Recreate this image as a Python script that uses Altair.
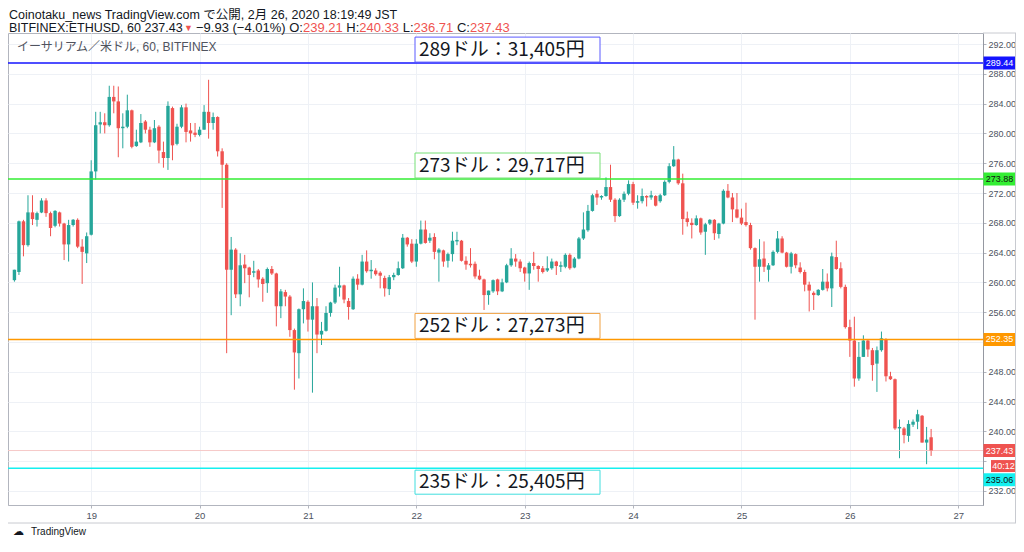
import altair as alt
import pandas as pd

# ---------------- data (hourly ETH/USD candles, Feb 18 07:00 -> Feb 26 18:00) ----------------
OPEN = [260.3, 261.4, 268.2, 265.0, 269.4, 268.4, 269.4, 271.0, 269.3, 267.6,
        269.4, 267.9, 265.1, 267.7, 268.4, 264.8, 263.9, 266.4, 274.9, 281.2,
        281.5, 281.1, 284.9, 284.3, 280.7, 280.9, 283.1, 278.3, 278.8, 281.6,
        280.5, 278.8, 280.9, 277.5, 276.7, 283.4, 278.6, 280.9, 283.5, 280.4,
        280.1, 279.8, 280.5, 282.9, 281.4, 282.2, 277.6, 275.8, 261.7, 264.4,
        258.4, 262.4, 262.0, 261.3, 261.6, 260.5, 259.9, 261.8, 261.2, 256.8,
        258.7, 258.1, 253.6, 250.5, 256.4, 257.4, 255.0, 256.8, 253.0, 253.5,
        255.9, 257.3, 259.3, 259.6, 257.5, 256.4, 260.5, 259.7, 262.8, 261.5,
        261.6, 261.3, 260.6, 259.1, 260.7, 261.0, 261.9, 266.0, 265.2, 262.8,
        265.2, 267.1, 265.6, 266.1, 264.0, 264.3, 262.9, 263.8, 265.5, 265.6,
        262.9, 262.5, 262.5, 260.9, 260.4, 258.3, 258.8, 260.4, 258.8, 260.0,
        262.3, 263.2, 262.8, 262.0, 261.2, 262.6, 262.2, 261.9, 261.6, 261.9,
        262.8, 262.1, 262.1, 263.7, 262.0, 263.2, 265.9, 267.0, 269.6, 271.9,
        271.4, 271.6, 272.8, 271.1, 268.9, 271.1, 271.9, 273.2, 270.7, 270.9,
        271.6, 271.4, 271.6, 270.9, 271.7, 273.5, 275.6, 276.5, 273.3, 268.6,
        268.0, 267.7, 268.6, 266.8, 267.9, 268.4, 266.5, 267.9, 272.3, 271.4,
        269.8, 268.7, 268.1, 267.7, 264.6, 262.1, 263.2, 261.7, 262.3, 264.1,
        265.9, 264.0, 262.1, 263.8, 262.0, 261.4, 259.7, 258.6, 258.3, 259.0,
        260.1, 259.2, 263.4, 261.9, 259.4, 254.0, 252.2, 247.1, 250.0, 252.2,
        250.9, 249.1, 250.9, 252.4, 247.4, 247.0, 240.4, 240.4, 239.4, 240.9,
        241.3, 242.1, 238.5, 239.21]
HIGH = [261.7, 268.3, 268.4, 271.7, 271.7, 269.5, 271.3, 271.3, 269.5, 269.7,
        269.5, 268.0, 268.4, 268.5, 268.6, 265.8, 266.7, 276.4, 282.9, 282.9,
        282.7, 286.4, 286.4, 286.3, 282.7, 285.2, 283.2, 280.5, 282.6, 281.8,
        280.9, 281.8, 281.1, 278.9, 284.3, 283.6, 281.3, 283.8, 284.0, 281.4,
        281.4, 280.9, 283.8, 287.2, 282.8, 282.3, 278.0, 276.0, 266.1, 264.6,
        263.9, 263.7, 262.1, 262.9, 261.8, 260.7, 262.0, 262.2, 261.3, 259.1,
        259.0, 258.3, 253.8, 256.5, 259.2, 257.6, 260.0, 257.9, 254.7, 256.8,
        257.4, 259.7, 262.1, 259.7, 257.9, 260.8, 261.1, 263.7, 264.3, 263.0,
        261.9, 261.5, 260.9, 261.0, 261.3, 262.8, 266.5, 266.1, 265.8, 265.8,
        268.3, 268.3, 266.6, 266.6, 264.6, 264.4, 264.0, 266.8, 266.8, 265.7,
        263.5, 264.6, 262.8, 261.7, 260.5, 258.9, 260.4, 260.5, 260.5, 262.5,
        264.6, 263.8, 263.1, 262.1, 262.8, 264.1, 262.3, 262.2, 263.5, 263.2,
        262.9, 262.8, 263.9, 263.9, 263.4, 266.1, 269.4, 270.4, 271.9, 272.4,
        271.7, 274.1, 275.8, 271.3, 271.3, 272.2, 273.7, 273.5, 271.7, 272.6,
        271.7, 272.3, 271.7, 271.9, 273.7, 276.0, 278.3, 276.6, 274.6, 269.5,
        268.6, 269.0, 268.7, 268.0, 268.5, 268.5, 268.0, 272.5, 273.2, 272.0,
        272.0, 269.9, 270.7, 268.0, 264.7, 265.8, 265.5, 262.6, 264.3, 266.9,
        266.2, 264.1, 264.1, 263.9, 262.7, 261.7, 260.1, 258.8, 259.1, 261.8,
        261.2, 264.0, 265.6, 262.7, 259.7, 255.0, 255.4, 252.0, 252.9, 252.4,
        251.2, 251.4, 253.4, 252.5, 248.0, 247.1, 241.6, 240.6, 241.5, 241.6,
        242.9, 242.2, 240.6, 240.33]
LOW = [260.1, 261.0, 263.5, 264.8, 267.7, 267.5, 269.3, 268.8, 266.2, 267.4,
       267.5, 263.0, 262.8, 267.5, 264.6, 259.8, 262.6, 266.3, 273.8, 280.0,
       280.0, 280.9, 282.7, 276.8, 278.0, 280.7, 278.0, 278.2, 278.7, 280.0,
       278.2, 278.7, 276.0, 275.4, 275.1, 276.4, 278.4, 280.7, 278.8, 278.9,
       279.5, 279.6, 280.5, 279.3, 280.5, 276.9, 270.0, 250.5, 255.6, 257.9,
       256.8, 259.9, 258.0, 260.7, 259.3, 257.4, 258.6, 261.0, 254.1, 255.2,
       256.8, 252.7, 245.6, 247.1, 254.5, 253.4, 245.2, 250.5, 251.6, 253.4,
       255.4, 257.1, 258.1, 257.2, 255.0, 256.3, 259.0, 259.6, 261.3, 260.5,
       260.9, 259.2, 258.1, 258.3, 260.3, 260.9, 261.8, 264.8, 262.6, 262.1,
       265.1, 265.2, 265.3, 263.1, 260.1, 262.1, 262.0, 262.8, 265.0, 262.8,
       261.7, 262.0, 260.5, 260.3, 256.3, 257.0, 258.6, 258.3, 258.7, 259.9,
       262.1, 262.1, 261.4, 260.1, 259.0, 261.7, 260.1, 261.2, 261.4, 261.7,
       261.0, 261.4, 261.9, 261.7, 261.9, 263.1, 265.7, 266.8, 269.5, 270.4,
       271.1, 271.5, 270.8, 268.1, 268.8, 270.8, 271.7, 270.4, 269.9, 270.6,
       270.2, 271.1, 270.2, 270.7, 271.6, 273.3, 275.5, 273.1, 266.4, 267.5,
       265.9, 267.6, 266.4, 263.7, 267.7, 265.7, 265.9, 267.8, 271.3, 268.1,
       268.6, 267.7, 267.5, 264.4, 255.0, 260.1, 261.4, 260.1, 262.2, 263.9,
       263.9, 262.0, 261.2, 261.9, 261.2, 258.8, 256.1, 256.3, 258.2, 258.9,
       258.8, 256.7, 261.7, 259.2, 253.8, 250.0, 246.0, 246.8, 250.0, 250.0,
       246.8, 245.3, 250.7, 246.7, 246.9, 240.2, 236.4, 238.4, 238.6, 240.6,
       240.3, 238.5, 235.6, 236.71]
CLOSE = [261.7, 268.2, 265.0, 269.4, 268.5, 269.3, 271.0, 269.3, 267.3, 269.6,
         267.9, 265.1, 267.7, 268.4, 264.8, 264.1, 266.2, 274.9, 281.1, 281.5,
         281.1, 284.9, 284.3, 280.7, 280.9, 283.1, 278.2, 278.9, 281.4, 280.5,
         278.8, 280.7, 277.7, 276.7, 283.7, 278.4, 280.9, 283.5, 280.2, 280.0,
         279.8, 280.5, 282.9, 281.4, 282.2, 277.6, 275.8, 261.7, 264.4, 258.4,
         262.3, 261.9, 261.0, 261.5, 260.4, 259.8, 261.8, 261.2, 256.8, 258.8,
         258.1, 253.6, 250.6, 256.4, 257.5, 255.0, 256.8, 253.0, 253.5, 255.9,
         257.3, 259.3, 259.6, 257.7, 256.7, 260.5, 259.7, 262.8, 261.5, 261.7,
         261.1, 260.9, 259.2, 260.7, 261.0, 261.9, 266.0, 265.1, 262.8, 265.2,
         267.1, 265.3, 266.0, 264.1, 264.4, 262.8, 263.8, 265.6, 265.7, 262.9,
         262.4, 262.3, 260.8, 260.4, 258.3, 258.9, 260.3, 258.8, 260.0, 262.3,
         263.2, 262.8, 261.9, 261.2, 262.6, 262.2, 261.8, 261.4, 261.9, 262.8,
         262.2, 262.3, 263.7, 261.9, 263.2, 265.9, 267.1, 269.6, 271.7, 271.4,
         271.6, 272.8, 271.1, 268.9, 271.1, 271.9, 273.2, 270.7, 270.9, 271.6,
         271.4, 271.7, 270.3, 271.7, 273.5, 275.6, 276.5, 273.3, 268.5, 268.1,
         267.7, 268.6, 266.7, 267.8, 268.4, 266.6, 267.9, 272.3, 271.4, 269.8,
         268.7, 267.9, 267.7, 264.6, 262.1, 263.1, 262.1, 262.3, 264.1, 265.9,
         264.0, 262.1, 263.9, 262.3, 261.4, 259.7, 258.9, 258.3, 259.0, 260.1,
         259.2, 263.5, 261.8, 259.4, 254.0, 252.2, 247.1, 250.0, 252.2, 251.0,
         248.9, 250.9, 252.5, 247.4, 247.0, 240.4, 240.6, 239.5, 241.0, 241.3,
         242.3, 238.5, 238.9, 237.43]
START_DAY = 18
START_HOUR = 7
DAY_TICKS = [19, 20, 21, 22, 23, 24, 25, 26, 27]
PRICE_TICKS = [232, 236, 240, 244, 248, 252, 256, 260, 264, 268, 272, 276, 280, 284, 288, 292]
HIDDEN_TICK_LABELS = [252, 236]          # covered by price tags in the original
LEVELS = [289.44, 273.88, 252.35, 235.06]
LEVEL_TEXT = ["289ドル：31,405円", "273ドル：29,717円", "252ドル：27,273円", "235ドル：25,405円"]
LAST_PRICE = 237.43
COUNTDOWN = "40:12"
HEADER_1 = "Coinotaku_news TradingView.com で公開, 2月 26, 2020 18:19:49 JST"
HEAD_2 = "BITFINEX:ETHUSD, 60 237.43"
ARROW = "▼"
TAIL_2 = [("−9.93 (−4.01%) O:", "k"), ("239.21", "r"), (" H:", "k"), ("240.33", "r"),
          (" L:", "k"), ("236.71", "r"), (" C:", "k"), ("237.43", "r")]
SYMBOL_TITLE = "イーサリアム／米ドル, 60, BITFINEX"

# ---------------- styles ----------------
UP, DOWN = "#26a69a", "#ef5350"
INK = "#131722"
LEVEL_COLORS = ["#1414ff", "#33ee33", "#ff9800", "#14f0f0"]
BOX_STROKE = ["#5a5aff", "#77e077", "#f0a040", "#40dede"]
TAG_TEXT = ["#ffffff", "#111111", "#ffffff", "#111111"]
LAT = "Liberation Sans, Noto Sans CJK JP, sans-serif"
JP = "Noto Sans CJK JP, sans-serif"
W, H = 975, 472
XS = alt.Scale(domain=[18.2785, 27.1826], nice=False, zero=False)
YS = alt.Scale(domain=[230.12, 293.48], nice=False, zero=False)
ONE = alt.Data(values=[{}])

# Arial / Liberation Sans advance widths (per em) for chaining header segments
ADV = {" ": .278, "%": .889, "(": .333, ")": .333, ",": .278, ".": .278, ":": .278,
       "−": .584, "C": .722, "H": .722, "L": .556, "O": .778}
for d in "0123456789":
    ADV[d] = .556


def width(s, size):
    return sum(ADV.get(ch, .6) for ch in s) * size


hide = " || ".join(f"datum.value == {v}" for v in HIDDEN_TICK_LABELS)
X_AXIS = alt.Axis(values=DAY_TICKS, format="d", title=None, labelFontSize=9.5, labelFont=LAT,
                  labelColor="#4c525e", tickSize=3, tickColor="#b2b5be", domainColor="#b2b5be",
                  gridColor="#eef1f6", labelPadding=2, labelFlush=False)
Y_AXIS = alt.Axis(orient="right", values=PRICE_TICKS, title=None, labelFontSize=9,
                  labelExpr=f"({hide}) ? '' : format(datum.value, '.2f')",
                  labelFont=LAT, labelColor="#4c525e", tickSize=3, tickColor="#b2b5be",
                  domainColor="#9598a1", gridColor="#eef1f6", labelPadding=2, labelFlush=False)


def Xf(field):
    return alt.X(field, scale=XS, axis=X_AXIS)


def Yf(field):
    return alt.Y(field, scale=YS, axis=Y_AXIS)


n = len(OPEN)
df = pd.DataFrame({
    "t": [START_DAY + (START_HOUR + i) / 24 for i in range(n)],
    "open": OPEN, "high": HIGH, "low": LOW, "close": CLOSE,
})
df["dir"] = ["up" if c >= o else "down" for o, c in zip(OPEN, CLOSE)]
color = alt.Color("dir:N", scale=alt.Scale(domain=["up", "down"], range=[UP, DOWN]), legend=None)

layers = []

# wicks (carry both axes)
layers.append(alt.Chart(df).mark_rule(strokeWidth=1).encode(
    x=Xf("t:Q"), y=Yf("low:Q"), y2="high:Q", color=color))
# last price line
lp = pd.DataFrame({"price": [LAST_PRICE]})
layers.append(alt.Chart(lp).mark_rule(color="#f6c9c8", strokeWidth=1).encode(y=Yf("price:Q")))
# bodies
layers.append(alt.Chart(df).mark_bar(size=3.4).encode(
    x=Xf("t:Q"), y=Yf("open:Q"), y2="close:Q", color=color))

# level lines + boxes + texts + axis tags
for i, (lvl, txt_) in enumerate(zip(LEVELS, LEVEL_TEXT)):
    ld = pd.DataFrame({"price": [lvl], "label": [txt_], "tag": [f"{lvl:.2f}"]})
    below = i == 3
    layers.append(alt.Chart(ld).mark_rule(color=LEVEL_COLORS[i], strokeWidth=1.5).encode(
        y=Yf("price:Q")))
    layers.append(alt.Chart(ld).mark_rect(
        fill="white", stroke=BOX_STROKE[i], strokeWidth=1,
        yOffset=(2 if below else -26), y2Offset=(26 if below else -1)).encode(
        x=alt.value(407), x2=alt.value(592), y=Yf("price:Q"), y2="price:Q"))
    layers.append(alt.Chart(ld).mark_text(
        align="left", baseline="middle", font=JP, fontSize=19, color=INK,
        dy=(14 if below else -13)).encode(
        x=alt.value(411), y=Yf("price:Q"), text="label:N"))
    off = 11.5 if below else 0
    layers.append(alt.Chart(ld).mark_rect(
        fill=LEVEL_COLORS[i], yOffset=off - 6.5, y2Offset=off + 6.5).encode(
        x=alt.value(975.5), x2=alt.value(1008), y=Yf("price:Q"), y2="price:Q"))
    layers.append(alt.Chart(ld).mark_text(
        align="center", baseline="middle", font=LAT, fontSize=9, color=TAG_TEXT[i], dy=off).encode(
        x=alt.value(991.5), y=Yf("price:Q"), text="tag:N"))

# last price tag + countdown
lpd = pd.DataFrame({"price": [LAST_PRICE], "tag": [f"{LAST_PRICE:.2f}"], "cd": [COUNTDOWN]})
layers.append(alt.Chart(lpd).mark_rect(fill=DOWN, yOffset=-6.5, y2Offset=6.5).encode(
    x=alt.value(975.5), x2=alt.value(1008), y=Yf("price:Q"), y2="price:Q"))
layers.append(alt.Chart(lpd).mark_text(font=LAT, fontSize=9, color="white", baseline="middle").encode(
    x=alt.value(991.5), y=Yf("price:Q"), text="tag:N"))
layers.append(alt.Chart(lpd).mark_rect(fill=DOWN, yOffset=9.5, y2Offset=21.5).encode(
    x=alt.value(983), x2=alt.value(1008), y=Yf("price:Q"), y2="price:Q"))
layers.append(alt.Chart(lpd).mark_text(font=LAT, fontSize=9, color="white", baseline="middle", dy=15.5).encode(
    x=alt.value(995.5), y=Yf("price:Q"), text="cd:N"))

# frame lines
frame = "#c8cad0"
layers.append(alt.Chart(ONE).mark_rule(color=frame).encode(
    x=alt.value(0), x2=alt.value(1008), y=alt.value(490)))
layers.append(alt.Chart(ONE).mark_rule(color=frame).encode(
    x=alt.value(975), x2=alt.value(1008), y=alt.value(0)))
layers.append(alt.Chart(ONE).mark_rule(color=frame).encode(
    x=alt.value(1007.5), y=alt.value(0), y2=alt.value(490)))


def txt(s, x, y, size=13, col=INK, font=LAT, align="left", baseline="alphabetic"):
    return alt.Chart(ONE).mark_text(align=align, baseline=baseline, font=font, fontSize=size,
                                    color=col).encode(
        x=alt.value(x), y=alt.value(y), text=alt.value(s))


# header line 1
layers.append(txt(HEADER_1, 1, -14.5, size=12.5))
# header line 2, segments chained by their advance widths (leading spaces become gaps)
L2Y = -1
layers.append(txt(HEAD_2, 1, L2Y, size=12.5))
layers.append(txt(ARROW, 176, L2Y - 1, size=9, col=DOWN))
cx = 188.0
for s, c in TAIL_2:
    gap = width(s[: len(s) - len(s.lstrip())], 13)
    body = s.strip()
    cx += gap
    layers.append(txt(body, cx, L2Y, size=13, col=(DOWN if c == "r" else INK)))
    cx += width(body, 13)
# symbol title inside the pane
layers.append(txt(SYMBOL_TITLE, 9, 14, size=12, col="#50535e", baseline="middle"))
# footer logo
layers.append(txt("☁", 5, 499, size=11, col=INK, font="DejaVu Sans", baseline="middle"))
layers.append(txt("TradingView", 23, 499, size=10, col=INK, baseline="middle"))

chart = alt.layer(*layers).properties(
    width=W, height=H,
    padding={"left": 0, "top": 25, "right": 33, "bottom": 33},
    autosize=alt.AutoSizeParams(type="none"),
    background="white",
).configure_view(stroke="#b2b5be", strokeWidth=1)

chart.save("out.html", embed_options={"renderer": "svg", "actions": False})
